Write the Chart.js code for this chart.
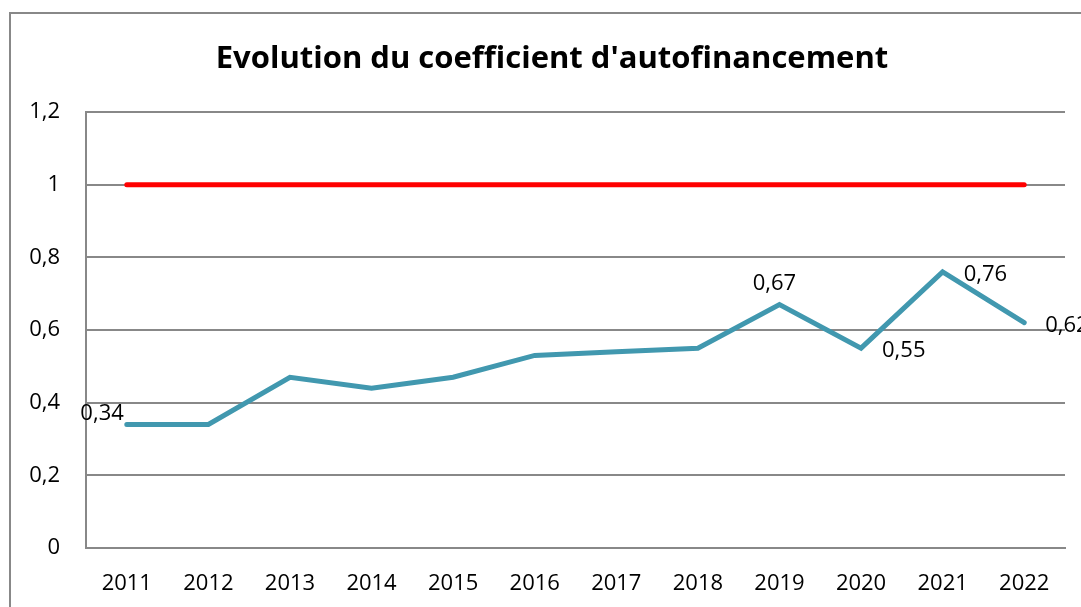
<!DOCTYPE html>
<html>
<head>
<meta charset="utf-8">
<script src="https://cdn.jsdelivr.net/npm/chart.js@4"></script>
<style>
  html, body { margin: 0; padding: 0; background: #fff; }
  #wrap { position: relative; width: 1081px; height: 607px; overflow: hidden; }
  #frame { position: absolute; left: 9px; top: 12px; width: 1200px; height: 700px; border: 2px solid #888; }
  #chart { position: absolute; left: 0; top: 0; }
</style>
</head>
<body>
<div id="wrap">
  <div id="frame"></div>
  <canvas id="chart" width="1081" height="607"></canvas>
</div>
<script>
const years = ["2011", "2012", "2013", "2014", "2015", "2016", "2017", "2018", "2019", "2020", "2021", "2022"];
const coefficient = [0.34, 0.34, 0.47, 0.44, 0.47, 0.53, 0.54, 0.55, 0.67, 0.55, 0.76, 0.62];
const threshold = [1, 1, 1, 1, 1, 1, 1, 1, 1, 1, 1, 1];
const yTicks = [0, 0.2, 0.4, 0.6, 0.8, 1, 1.2];
// which points carry a value label, and where
const labelSpots = ["left", null, null, null, null, null, null, null, "above", "right", "right", "right"];
const chartTitle = "Evolution du coefficient d'autofinancement";

const FONT = "'Open Sans', 'Liberation Sans', sans-serif";

function frNum(v) {
  return String(Number(v.toFixed(2))).replace(".", ",");
}

// title is centred on the frame, not on the plot, so draw it by hand
const frameTitle = {
  id: "frameTitle",
  afterDraw(chart) {
    const c = chart.ctx;
    c.save();
    c.font = "bold 31px " + FONT;
    c.fillStyle = "#000";
    c.textAlign = "center";
    c.textBaseline = "middle";
    c.fillText(chartTitle, 552, 59);
    c.restore();
  }
};

const valueLabels = {
  id: "valueLabels",
  afterDatasetsDraw(chart) {
    const meta = chart.getDatasetMeta(0);
    const c = chart.ctx;
    c.save();
    c.font = "22px " + FONT;
    c.fillStyle = "#000";
    c.textBaseline = "middle";
    meta.data.forEach((pt, i) => {
      const spot = labelSpots[i];
      if (!spot) return;
      const txt = frNum(coefficient[i]);
      if (spot === "left") {
        c.textAlign = "right";
        c.fillText(txt, pt.x - 3, pt.y - 11);
      } else if (spot === "above") {
        c.textAlign = "center";
        c.fillText(txt, pt.x - 5, pt.y - 21);
      } else {
        c.textAlign = "left";
        c.fillText(txt, pt.x + 21, pt.y + 3);
      }
    });
    c.restore();
  }
};

new Chart(document.getElementById("chart").getContext("2d"), {
  type: "line",
  data: {
    labels: years,
    datasets: [
      {
        label: "Coefficient",
        data: coefficient,
        borderColor: "#4198AF",
        borderWidth: 5,
        pointRadius: 0,
        tension: 0,
        borderCapStyle: "round",
        borderJoinStyle: "miter"
      },
      {
        label: "Seuil",
        data: threshold,
        borderColor: "#FF0000",
        borderWidth: 5,
        pointRadius: 0,
        borderCapStyle: "round"
      }
    ]
  },
  options: {
    responsive: false,
    animation: false,
    layout: { padding: { left: 10, right: 16, top: 112, bottom: 0 } },
    plugins: {
      legend: { display: false },
      tooltip: { enabled: false },
      title: { display: false }
    },
    scales: {
      x: {
        offset: true,
        grid: { display: false, drawTicks: false },
        border: { display: true, color: "#888", width: 2 },
        ticks: { color: "#000", font: { family: FONT, size: 22 }, padding: 23, maxRotation: 0 },
        afterFit(scale) { scale.height = 59; }
      },
      y: {
        min: 0,
        max: 1.2,
        afterBuildTicks(scale) { scale.ticks = yTicks.map(v => ({ value: v })); },
        grid: { color: "#888", lineWidth: 2, drawTicks: false },
        border: { display: true, color: "#888", width: 2 },
        ticks: {
          color: "#000",
          font: { family: FONT, size: 22 },
          padding: 26,
          callback: v => frNum(v)
        },
        afterFit(scale) { scale.width = 76; }
      }
    }
  },
  plugins: [valueLabels, frameTitle]
});
</script>
</body>
</html>
